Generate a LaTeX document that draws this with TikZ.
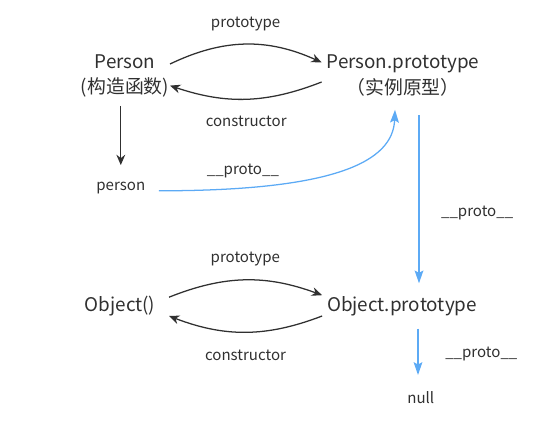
\documentclass[tikz,border=0pt]{standalone}
\usepackage{fontspec}
\setmainfont{Noto Sans CJK SC}
\usetikzlibrary{arrows.meta,positioning}
\definecolor{inkgray}{RGB}{48,48,48}
\definecolor{protoblue}{RGB}{92,170,245}
\tikzset{
  obj/.style={font=\fontsize{13.4}{18}\selectfont, text=inkgray, align=center},
  lbl/.style={font=\fontsize{10.7}{12}\selectfont, text=inkgray},
  linkarr/.style={-{Stealth[length=2.6mm,width=2.2mm]}, inkgray, line width=0.9pt},
  protoarr/.style={-{Stealth[length=3.2mm,width=2.2mm,inset=0.6mm]}, protoblue, line width=0.9pt}
}

\begin{document}
\begin{tikzpicture}
        \useasboundingbox (0,0) rectangle (13.85,10.55);
        % Person and its prototype
        \node[obj] (pfn) at (3.125,8.66) {Person\\(构造函数)};
        \node[obj] (pproto) at (10.075,8.66) {Person.prototype\\（实例原型）};
        \node[lbl] (pinst) at (3.02,5.85) {person};

        % Object and its prototype
        \node[obj] (ofn) at (3.0,2.9) {Object()};
        \node[obj] (oproto) at (10.05,2.9) {Object.prototype};
        \node[lbl] (nul) at (10.52,0.6) {null};

        \draw[linkarr] ([xshift=-0.1cm,yshift=0.29cm]pfn.east) to[bend left=25]
          node[lbl,above=0.2cm]{prototype} ([yshift=0.33cm]pproto.west);
        \draw[linkarr] ([yshift=-0.16cm]pproto.west) to[bend left=20]
          node[lbl,below=0.3cm]{constructor} ([xshift=-0.1cm,yshift=-0.25cm]pfn.east);
        \draw[linkarr,shorten <=0.1cm,shorten >=0.3cm]
          (pfn.south -| pinst.north) -- (pinst.north);

        \draw[linkarr] ([xshift=0.22cm,yshift=0.22cm]ofn.east) to[bend left=21]
          node[lbl,above=0.23cm]{prototype} ([yshift=0.27cm]oproto.west);
        \draw[linkarr] ([yshift=-0.25cm]oproto.west) to[bend left=21]
          node[lbl,below=0.31cm]{constructor} ([xshift=0.22cm,yshift=-0.25cm]ofn.east);

        % proto chain
        \draw[protoarr] ([xshift=0.22cm,yshift=-0.07cm]pinst.east)
          .. controls +(4.4,0) and +(-0.05,-1.3) ..
          node[lbl,above=0.13cm,pos=0.18]{\_\_proto\_\_}
          ([xshift=-0.2cm,yshift=-0.22cm]pproto.south);
        \draw[protoarr,shorten <=0.35cm,shorten >=0.2cm]
          ([xshift=0.4cm]pproto.south) --
          node[lbl,right=0.42cm,pos=0.59]{\_\_proto\_\_}
          ([xshift=0.4cm]pproto.south |- oproto.north);
        \draw[protoarr,shorten <=0.2cm,shorten >=0.3cm]
          ([xshift=0.4cm]oproto.south) --
          node[lbl,right=0.55cm]{\_\_proto\_\_}
          ([xshift=0.4cm]oproto.south |- nul.north);
\end{tikzpicture}
\end{document}
